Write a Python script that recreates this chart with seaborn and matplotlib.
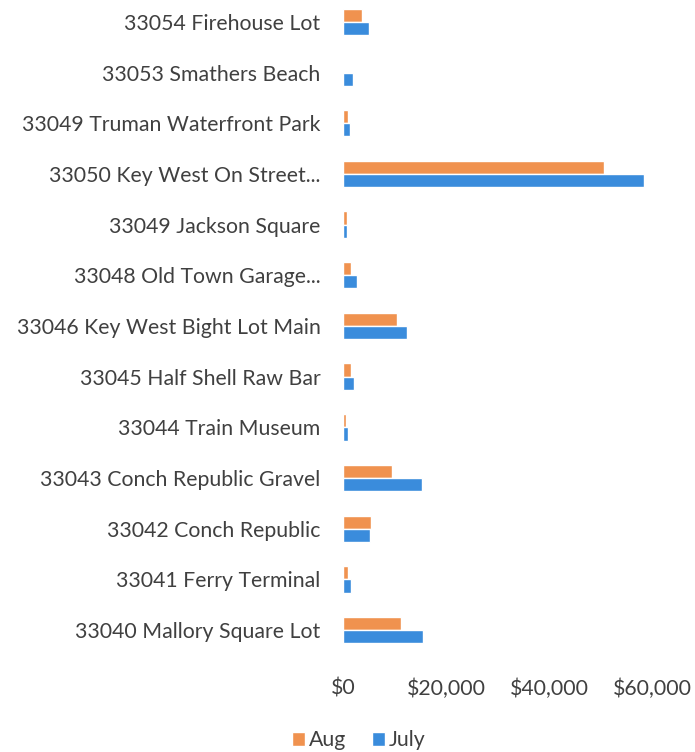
import matplotlib
matplotlib.use("Agg")
import matplotlib.pyplot as plt
import matplotlib.ticker as mticker
import pandas as pd
import seaborn as sns

lots = [
    "33054 Firehouse Lot",
    "33053 Smathers Beach",
    "33049 Truman Waterfront Park",
    "33050 Key West On Street...",
    "33049 Jackson Square",
    "33048 Old Town Garage...",
    "33046 Key West Bight Lot Main",
    "33045 Half Shell Raw Bar",
    "33044 Train Museum",
    "33043 Conch Republic Gravel",
    "33042 Conch Republic",
    "33041 Ferry Terminal",
    "33040 Mallory Square Lot",
]
aug  = [3700, 0, 1000, 50700, 800, 1500, 10500, 1500, 600, 9500, 5400, 1000, 11300]
july = [5000, 1800, 1300, 58400, 800, 2700, 12400, 2000, 900, 15300, 5200, 1500, 15500]
months = ["Aug", "July"]
colors = {"Aug": "#F0924F", "July": "#3A8CDC"}

df = pd.DataFrame({
    "lot":    lots * 2,
    "amount": aug + july,
    "month":  ["Aug"] * len(lots) + ["July"] * len(lots),
})

sns.set_style("white")
plt.rcParams["font.family"] = ["Lato", "DejaVu Sans"]

fig = plt.figure(figsize=(6.95, 7.52), dpi=100)
ax = fig.add_axes([0.494, 0.1285, 0.444, 0.876])

sns.barplot(
    data=df, x="amount", y="lot", hue="month", order=lots,
    hue_order=months, palette=colors, orient="h", width=0.52,
    saturation=1, ax=ax,
)

ax.set_xlim(0, 60000)
ax.set_xticks([0, 20000, 40000, 60000])
ax.xaxis.set_major_formatter(mticker.FuncFormatter(lambda v, p: f"${v:,.0f}"))
ax.set_xlabel("")
ax.set_ylabel("")
for s in ax.spines.values():
    s.set_visible(False)
ax.tick_params(axis="both", length=0, labelsize=15.3, colors="#404040")
ax.tick_params(axis="x", pad=17)
ax.tick_params(axis="y", pad=16.5)

ax.legend(
    loc="upper center", bbox_to_anchor=(0.05, -0.085), ncol=2, frameon=False,
    fontsize=15.3, handlelength=0.6, handleheight=0.6, handletextpad=0.2,
    columnspacing=1.2, labelcolor="#404040",
)

fig.savefig("out.png", dpi=100)
